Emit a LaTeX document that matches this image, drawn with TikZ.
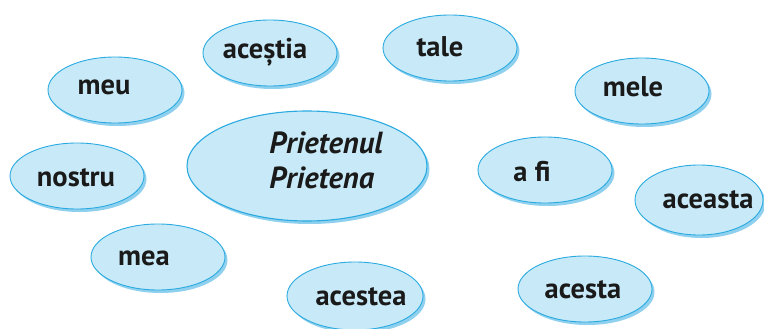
\documentclass[tikz,border=0pt]{standalone}
\usepackage{fontspec}
\setmainfont{PT Sans}
\usetikzlibrary{shapes.geometric,shadows}
\definecolor{fillblue}{HTML}{C8EAF8}
\definecolor{lineblue}{HTML}{2AAAE0}
\definecolor{shadeblue}{HTML}{8ED0EE}
\definecolor{txt}{HTML}{1A1A1A}
\tikzset{
  bubble/.style={ellipse, draw=lineblue, line width=0.9pt, fill=fillblue,
    minimum width=134pt, minimum height=66pt, inner sep=0pt,
    drop shadow={shadow xshift=2.5pt, shadow yshift=-3pt, fill=shadeblue, opacity=1}},
  word/.style={text=txt, inner sep=0pt, font=\fontsize{28.5}{30}\selectfont\bfseries},
  bigword/.style={word, font=\fontsize{30.5}{35}\selectfont\bfseries\itshape, align=left}
}
\begin{document}
\begin{tikzpicture}[x=1pt,y=-1pt]
\useasboundingbox (0,0) rectangle (764,329);
\node[bubble] (meu) at (115,90) {};
\node[bubble] (acestia) at (270,53) {};
\node[bubble] (tale) at (450,48) {};
\node[bubble] (mele) at (642,91) {};
\node[bubble] (nostru) at (77,176) {};
\node[bubble, minimum width=240pt, minimum height=110pt, line width=1.1pt] (prieten) at (307,166) {};
\node[bubble] (afi) at (545,170) {};
\node[bubble, minimum width=128pt, minimum height=70pt] (aceasta) at (699,200) {};
\node[bubble] (mea) at (158,257) {};
\node[bubble, minimum width=136pt, minimum height=68pt] (acestea) at (355,296) {};
\node[bubble] (acesta) at (585,289) {};
\node[word] (tmeu) at ([xshift=-11pt,yshift=3pt]meu.center) {meu};
\node[word] (tacestia) at ([xshift=-5pt,yshift=1pt]acestia.center) {aceștia};
\node[word] (ttale) at ([xshift=-10pt,yshift=1pt]tale.center) {tale};
\node[word] (tmele) at ([xshift=-9pt,yshift=4pt]mele.center) {mele};
\node[word] (tnostru) at ([xshift=-1pt,yshift=-2pt]nostru.center) {nostru};
\node[bigword] (tprieten) at ([xshift=19pt,yshift=6pt]prieten.center) {Prietenul\\Prietena};
\node[word] (tafi) at ([xshift=-13pt,yshift=-1pt]afi.center) {a fi};
\node[word] (taceasta) at ([xshift=9pt,yshift=0pt]aceasta.center) {aceasta};
\node[word] (tmea) at ([xshift=-14pt,yshift=-1pt]mea.center) {mea};
\node[word] (tacestea) at ([xshift=6pt,yshift=-1pt]acestea.center) {acestea};
\node[word] (tacesta) at ([xshift=-2pt,yshift=-1pt]acesta.center) {acesta};
\end{tikzpicture}
\end{document}
